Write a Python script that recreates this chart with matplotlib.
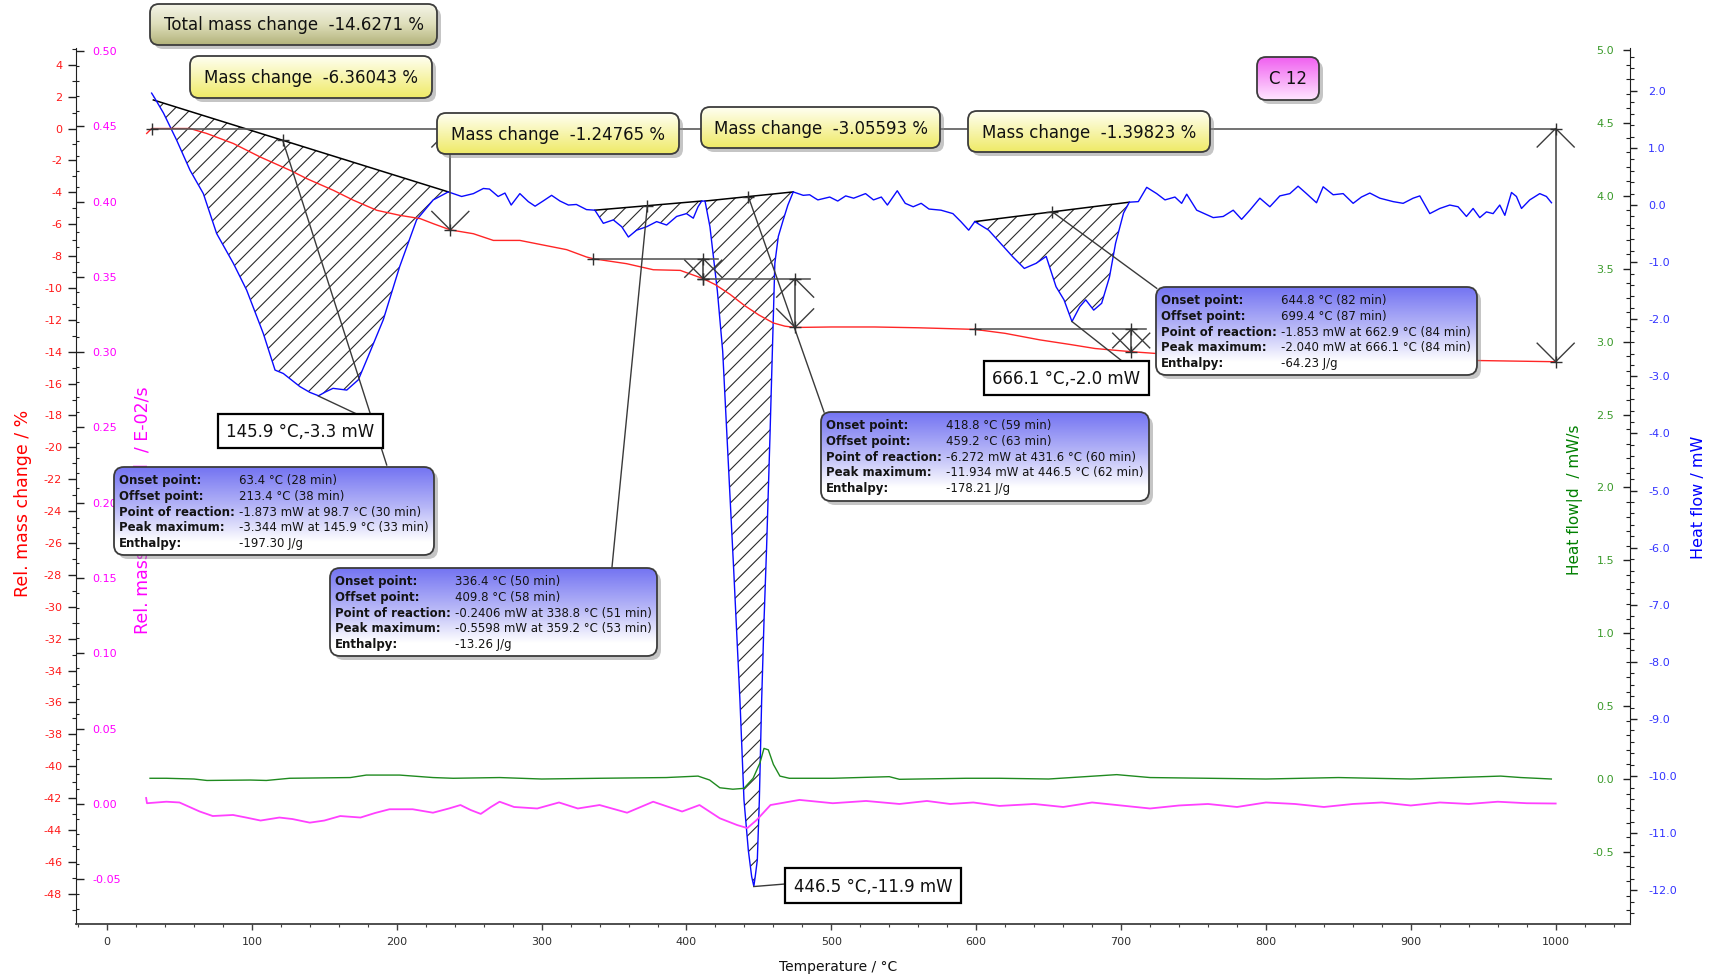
import numpy as np
import matplotlib.pyplot as plt
from matplotlib.patches import FancyBboxPatch, Rectangle
from matplotlib.ticker import MultipleLocator, FormatStrFormatter
from matplotlib.colors import to_rgb

plt.rcParams['font.family'] = ['DejaVu Sans']
plt.rcParams['axes.unicode_minus'] = False
plt.rcParams['hatch.linewidth'] = 0.8

# ---------------- data ----------------
# TG: relative mass change / %
mass_T = [27.4, 30.8, 57.3, 68.8, 87.2, 105.6, 126.3, 137.8, 156.3, 170.1, 186.2, 202.3, 216.1,
          225.2, 237.0, 252.9, 266.7, 285.0, 298.9, 317.3, 331.0, 335.7, 358.7, 377.1, 395.7,
          411.6, 420.0, 430.0, 440.0, 450.0, 460.0, 468.0, 475.0, 500.0, 530.0, 560.0, 599.0,
          620.0, 644.0, 665.0, 682.0, 707.0, 730.0, 757.0, 800.0, 833.0, 870.0, 909.0, 950.0, 1000.0]
mass_pct = [-0.31, 0.0, 0.0, -0.31, -0.94, -1.78, -2.62, -3.14, -3.88, -4.5, -5.13, -5.45, -5.65,
            -5.97, -6.36, -6.6, -7.02, -7.02, -7.27, -7.6, -8.06, -8.17, -8.48, -8.86, -8.9,
            -9.42, -9.8, -10.4, -11.1, -11.7, -12.2, -12.4, -12.48, -12.45, -12.45, -12.5, -12.6,
            -12.85, -13.26, -13.55, -13.8, -14.0, -14.15, -14.28, -14.38, -14.42, -14.47, -14.5, -14.56, -14.63]

# DSC: heat flow / mW
blue_T = [30.8, 33, 39, 48, 57.3, 66.5, 75.7, 87.2, 96.4, 107.9, 116, 121.7, 133.2, 140, 146, 151,
          156, 165.5, 173.5, 179.3, 190.7, 202, 213.7, 225.2, 235.6, 244.8, 252.9, 259.8, 264, 270,
          274.7, 279, 285, 290.8, 295.5, 301, 306.9, 312.7, 318.5, 324, 331, 336.8, 342.6, 349.5,
          355.3, 359.9, 365.6, 372.5, 379.4, 386.3, 393.2, 400, 404.7, 408, 410.5, 412.8, 416.2,
          418.6, 421.3, 425, 428.8, 432.6, 436.9, 439.7, 442.7, 445, 446.5, 447.5, 448.9, 450.3,
          451.9, 453.5, 455.3, 457.6, 459.5, 461, 463.4, 466.8, 470, 473.7, 480.6, 485, 488.7,
          490.7, 498.9, 504.4, 509.9, 515.4, 523.6, 529.1, 534.5, 538.7, 545.5, 551, 556.5, 562,
          567.4, 575.7, 583.9, 589.4, 594.8, 599, 608.6, 616.8, 625, 633.2, 641.4, 648.3, 655.1,
          660.6, 666.1, 671.5, 675.6, 681.1, 686.6, 692, 696.2, 701.7, 705.7, 711.9, 717.7, 724.6,
          730.3, 737.2, 741.8, 745.3, 752.2, 763.6, 770.5, 777.4, 783.2, 788.9, 795.8, 802.7,
          809.6, 816.5, 822.2, 828, 834.9, 839.5, 846.4, 853.3, 860.2, 865.9, 871.7, 878.6, 887.8,
          894.7, 901.6, 906.2, 913.1, 920, 926.9, 932.6, 938.4, 943, 947.6, 952.2, 956.8, 961.4,
          964.9, 969.5, 972.9, 976.4, 982.1, 989, 993.6, 997.1]
blue_mw = [1.96, 1.87, 1.61, 1.14, 0.61, 0.2, -0.5, -1.02, -1.49, -2.25, -2.89, -2.95, -3.18, -3.28,
           -3.34, -3.27, -3.21, -3.24, -3.06, -2.71, -2.01, -1.08, -0.26, 0.09, 0.23, 0.15, 0.2,
           0.29, 0.28, 0.15, 0.21, 0.0, 0.2, 0.06, -0.02, 0.07, 0.17, 0.07, 0.0, 0.01, -0.08, -0.09,
           -0.32, -0.26, -0.38, -0.56, -0.44, -0.38, -0.29, -0.35, -0.2, -0.15, -0.23, -0.03, 0.07,
           0.07, -0.38, -0.9, -1.5, -2.56, -4.47, -6.39, -8.67, -10.42, -11.3, -11.76, -11.93,
           -11.75, -11.47, -10.42, -8.67, -7.3, -6.0, -4.08, -2.4, -1.02, -0.55, -0.26, 0.0, 0.23,
           0.17, 0.18, 0.12, 0.09, 0.14, 0.07, 0.16, 0.12, 0.2, 0.09, 0.14, 0.0, 0.25, 0.03, -0.03,
           0.03, -0.07, -0.09, -0.15, -0.29, -0.44, -0.29, -0.44, -0.67, -0.9, -1.11, -1.02, -0.9,
           -1.43, -1.66, -2.04, -1.78, -1.66, -1.84, -1.72, -1.26, -0.67, -0.14, 0.05, 0.06, 0.31,
           0.2, 0.09, 0.14, 0.03, 0.19, -0.09, -0.22, -0.2, -0.09, -0.25, -0.09, 0.12, -0.03, 0.16,
           0.2, 0.33, 0.2, 0.04, 0.32, 0.18, 0.2, 0.03, 0.14, 0.21, 0.12, 0.06, 0.03, 0.12, 0.16,
           -0.15, -0.06, 0.0, -0.03, -0.2, -0.06, -0.22, -0.12, -0.15, 0.0, -0.18, 0.22, 0.15,
           -0.06, 0.09, 0.2, 0.15, 0.04]

# derivative of DSC / mW/s
green_T = [29.7, 41, 60, 69, 99, 110, 126, 168, 179, 202, 225, 239, 271, 300, 340, 386, 408, 416,
           423, 432, 439.7, 446, 450.7, 453.5, 456.5, 460, 464.5, 471, 501, 540, 547, 593, 616,
           650, 697, 720, 760, 800, 850, 900, 962, 976, 997]
green_v = [0.005, 0.005, 0.0, -0.01, -0.007, -0.01, 0.005, 0.01, 0.027, 0.027, 0.01, 0.005, 0.01,
           0.0, 0.005, 0.01, 0.02, -0.007, -0.06, -0.07, -0.064, 0.005, 0.11, 0.21, 0.2, 0.1, 0.02,
           0.005, 0.005, 0.016, -0.002, 0.005, 0.005, 0.0, 0.03, 0.01, 0.005, 0.0, 0.01, 0.0, 0.02,
           0.01, 0.0]

# DTG: derivative of mass change / E-02/s
mag_T = [27.0, 27.6, 41, 50, 57, 64, 73, 87, 96, 106, 119, 128, 140, 150, 161, 175, 185, 195, 211,
         225, 236, 244, 251, 258, 265, 271, 281, 297, 312, 325, 340, 359, 377, 397, 409, 423, 435,
         442, 448.5, 458, 478, 501, 524, 547, 566, 582, 598, 616, 640, 660, 680, 700, 720, 740,
         760, 780, 800, 820, 840, 860, 880, 900, 920, 940, 960, 980, 1000]
mag_v = [0.004, 0.0005, 0.0015, 0.001, -0.002, -0.005, -0.008, -0.0073, -0.009, -0.011, -0.009,
         -0.010, -0.0124, -0.011, -0.008, -0.009, -0.006, -0.0035, -0.0035, -0.0058, -0.003,
         -0.0007, -0.004, -0.0066, -0.002, 0.0015, -0.002, -0.003, 0.001, -0.003, -0.0007,
         -0.0058, 0.0015, -0.005, -0.0007, -0.0095, -0.014, -0.016, -0.0106, -0.0007, 0.0027,
         0.0005, 0.002, 0.0, 0.002, 0.0, 0.001, -0.0013, 0.0, -0.002, 0.001, -0.001, -0.003,
         -0.001, 0.0, -0.002, 0.001, 0.0, -0.002, 0.0, 0.001, -0.001, 0.001, 0.0, 0.0015, 0.0005,
         0.0003]

# DSC peak evaluation: integration baselines (T0, mW0, T1, mW1) and marker temperatures
peak_base = [(32.0, 1.84, 235.6, 0.23), (336.8, -0.09, 410.5, 0.07),
             (412.8, 0.07, 473.7, 0.23), (599.0, -0.29, 705.7, 0.05)]
peak_mark_T = [121.3, 373.0, 442.7, 652.6]
peak_max = [(145.9, -3.344), (446.5, -11.934), (666.1, -2.040)]
peak_max_text = ['145.9 °C,-3.3 mW', '446.5 °C,-11.9 mW', '666.1 °C,-2.0 mW']

info_labels = ['Onset point:', 'Offset point:', 'Point of reaction:', 'Peak maximum:', 'Enthalpy:']
info_values = [
    ['63.4 °C (28 min)', '213.4 °C (38 min)', '-1.873 mW at 98.7 °C (30 min)',
     '-3.344 mW at 145.9 °C (33 min)', '-197.30 J/g'],
    ['336.4 °C (50 min)', '409.8 °C (58 min)', '-0.2406 mW at 338.8 °C (51 min)',
     '-0.5598 mW at 359.2 °C (53 min)', '-13.26 J/g'],
    ['418.8 °C (59 min)', '459.2 °C (63 min)', '-6.272 mW at 431.6 °C (60 min)',
     '-11.934 mW at 446.5 °C (62 min)', '-178.21 J/g'],
    ['644.8 °C (82 min)', '699.4 °C (87 min)', '-1.853 mW at 662.9 °C (84 min)',
     '-2.040 mW at 666.1 °C (84 min)', '-64.23 J/g'],
]

# TG mass steps
total_change = -14.6271
step_change = [-6.36043, -1.24765, -3.05593, -1.39823]
step_start_T = [31.0, 335.7, 411.6, 599.0]
step_end_T = [237.0, 411.6, 475.0, 707.0]
step_level = [0.0, -8.17, -9.418, -12.6]
sample_name = 'C 12'

# ---------------- figure ----------------
W, H = 1717, 980
PL, PR, PB, PT = 76, 1630, 924, 48
fig = plt.figure(figsize=(W / 100, H / 100), dpi=100)
ax = fig.add_axes([PL / W, 1 - PB / H, (PR - PL) / W, (PB - PT) / H])
ax_b = ax.twinx()
ax_g = ax.twinx()
ax_m = ax.twinx()
for a in (ax, ax_b, ax_g, ax_m):
    a.patch.set_visible(False)
    for s in a.spines.values():
        s.set_visible(False)
ax_b.set_zorder(1)
ax_g.set_zorder(2)
ax_m.set_zorder(3)
ax.set_zorder(4)

spc = '#202020'
ax.spines['left'].set_visible(True)
ax.spines['left'].set_color(spc)
ax.spines['bottom'].set_visible(True)
ax.spines['bottom'].set_color('#404040')
ax.spines['bottom'].set_linewidth(1.3)
ax_b.spines['right'].set_visible(True)
ax_b.spines['right'].set_color(spc)

ax.set_xlim(-21.4, 1051.3)
ax.set_ylim(-49.9, 5.05)
ax_m.set_ylim(-0.0797, 0.502)
ax_g.set_ylim(-0.9945, 5.014)
ax_b.set_ylim(-12.59, 2.75)

# curves
ax.plot(mass_T, mass_pct, color='#ff2626', lw=1.0)
ax_m.plot(mag_T, mag_v, color='#ff40ff', lw=1.3)
ax_g.plot(green_T, green_v, color='#1f8a1f', lw=1.0)

bt = np.array(blue_T)
bv = np.array(blue_mw)
for t0, v0, t1, v1 in peak_base:
    sel = (bt >= t0) & (bt <= t1)
    seg_t = np.concatenate([[t0], bt[sel], [t1]])
    seg_v = np.concatenate([[np.interp(t0, bt, bv)], bv[sel], [np.interp(t1, bt, bv)]])
    base = np.interp(seg_t, [t0, t1], [v0, v1])
    ax_b.fill_between(seg_t, seg_v, base, facecolor='none', edgecolor='#2a2a2a', hatch='//', linewidth=0)
    ax_b.plot([t0, t1], [v0, v1], color='black', lw=1.1)
ax_b.plot(blue_T, blue_mw, color='#0a0aff', lw=1.0)

# ticks
ax.xaxis.set_major_locator(MultipleLocator(100))
ax.xaxis.set_minor_locator(MultipleLocator(20))
ax.tick_params(axis='x', which='major', direction='out', length=4.5, width=1, color='#404040',
               labelcolor='#303030', labelsize=8, pad=5)
ax.tick_params(axis='x', which='minor', direction='out', length=2.5, width=0.8, color='#404040')

ax.yaxis.set_major_locator(MultipleLocator(2))
ax.yaxis.set_minor_locator(MultipleLocator(1))
ax.tick_params(axis='y', which='major', direction='out', length=5.5, width=1, color=spc,
               labelcolor='#ff1a1a', labelsize=8, pad=4.5)
ax.tick_params(axis='y', which='minor', direction='out', length=3, width=0.8, color=spc)

ax_m.spines['right'].set_position(('axes', 0))
ax_m.yaxis.tick_right()
ax_m.yaxis.set_major_locator(MultipleLocator(0.05))
ax_m.yaxis.set_minor_locator(MultipleLocator(0.01))
ax_m.yaxis.set_major_formatter(FormatStrFormatter('%.2f'))
ax_m.tick_params(axis='y', which='major', direction='out', length=5.5, width=1, color=spc,
                 labelcolor='#ff00ff', labelsize=8, pad=6)
ax_m.tick_params(axis='y', which='minor', direction='out', length=2.5, width=0.8, color=spc)

ax_g.spines['left'].set_position(('axes', 1))
ax_g.yaxis.tick_left()
ax_g.yaxis.set_major_locator(MultipleLocator(0.5))
ax_g.yaxis.set_minor_locator(MultipleLocator(0.1))
ax_g.yaxis.set_major_formatter(FormatStrFormatter('%.1f'))
ax_g.tick_params(axis='y', which='major', direction='out', length=5, width=1, color=spc,
                 labelcolor='#3a9a2a', labelsize=8, pad=6.5)
ax_g.tick_params(axis='y', which='minor', direction='out', length=2.8, width=0.8, color=spc)

ax_b.yaxis.tick_right()
ax_b.yaxis.set_major_locator(MultipleLocator(1.0))
ax_b.yaxis.set_minor_locator(MultipleLocator(0.2))
ax_b.yaxis.set_major_formatter(FormatStrFormatter('%.1f'))
ax_b.tick_params(axis='y', which='major', direction='out', length=5, width=1, color=spc,
                 labelcolor='#3333ff', labelsize=8, pad=8)
ax_b.tick_params(axis='y', which='minor', direction='out', length=2.8, width=0.8, color=spc)

# ---------------- overlay in pixel coordinates for the annotations ----------------
ov = fig.add_axes([0, 0, 1, 1], zorder=10)
ov.set_xlim(0, W)
ov.set_ylim(H, 0)
ov.autoscale(False)
ov.axis('off')


def to_px(a, x, y):
    dx, dy = a.transData.transform((x, y))
    return dx, H - dy


def gradient_box(x0, y0, x1, y1, stops, text=None, size=12, rad=9):
    w, h = x1 - x0, y1 - y0
    style = f'round,pad=0,rounding_size={rad}'
    ov.add_patch(FancyBboxPatch((x0 + 4, y0 + 4), w, h, boxstyle=style, fc='#8c8c8c',
                                ec='none', alpha=0.5, zorder=20))
    frame = FancyBboxPatch((x0, y0), w, h, boxstyle=style, fc='none', ec='#3c3c3c', lw=1.3, zorder=22)
    ov.add_patch(frame)
    pos = [p for p, _ in stops]
    cols = np.array([to_rgb(c) for _, c in stops])
    t = np.linspace(0, 1, 120)
    img = np.stack([np.interp(t, pos, cols[:, k]) for k in range(3)], axis=-1)[:, None, :]
    img = np.repeat(img, 2, axis=1)
    im = ov.imshow(img, extent=(x0, x1, y1, y0), origin='upper', aspect='auto', zorder=21,
                   interpolation='bilinear')
    im.set_clip_path(frame)
    if text:
        ov.text((x0 + x1) / 2, (y0 + y1) / 2 + 1, text, fontsize=size, ha='center', va='center',
                color='#111111', zorder=23)


def plus(x, y):
    ov.plot([x], [y], marker='+', ms=9, mew=1.0, color='#303030', zorder=7)


def v_arrow(x, ytop, ybot, h=18.5, c='#3c3c3c'):
    ov.plot([x, x], [ytop, ybot], color=c, lw=1.1, zorder=6)
    ov.plot([x - h, x, x + h], [ytop + h, ytop, ytop + h], color=c, lw=1.0, zorder=6)
    ov.plot([x - h, x, x + h], [ybot - h, ybot, ybot - h], color=c, lw=1.0, zorder=6)
    plus(x, ytop)
    plus(x, ybot)


lc = '#5a5a5a'
# total mass change
xa, ya = to_px(ax, step_start_T[0], 0.0)
xb, yb = to_px(ax, 1000.0, 0.0)
ov.plot([xa, xb], [ya, yb], color=lc, lw=1.2, zorder=5)
plus(xa, ya)
_, yt = to_px(ax, 1000.0, total_change)
v_arrow(xb, yb, yt)

# individual mass steps
for i in range(4):
    xs, ys = to_px(ax, step_start_T[i], step_level[i])
    xe, ye = to_px(ax, step_end_T[i], step_level[i] + step_change[i])
    if i > 0:
        xh, _ = to_px(ax, step_end_T[i] + 10, step_level[i])
        ov.plot([xs, xh], [ys, ys], color=lc, lw=1.2, zorder=5)
        plus(xs, ys)
    v_arrow(xe, ys, ye)

# peak leader lines to the info boxes
info_box = [(114, 467, 434, 555), (330, 568, 657, 656), (821, 412, 1149, 501), (1156, 287, 1477, 375)]
info_anchor = [(386.7, 465), (612, 567), (824, 412), (1156.7, 288.3)]
for (t0, v0, t1, v1), tm, (ax_x, ax_y) in zip(peak_base, peak_mark_T, info_anchor):
    mx, my = to_px(ax_b, tm, np.interp(tm, [t0, t1], [v0, v1]))
    ov.plot([mx, ax_x], [my, ax_y], color='#3a3a3a', lw=1.0, zorder=6)
    plus(mx, my)

label_box = [(218, 414, 383, 448), (785, 868, 961, 903), (984, 361, 1149, 395)]
label_anchor = [(356.7, 414), (785, 884), (1122, 361)]
for (tp, vp), (lx, ly) in zip(peak_max, label_anchor):
    px_, py_ = to_px(ax_b, tp, vp)
    ov.plot([px_, lx], [py_, ly], color='#3a3a3a', lw=1.0, zorder=6)

for (x0, y0, x1, y1), txt in zip(label_box, peak_max_text):
    ov.add_patch(Rectangle((x0, y0), x1 - x0, y1 - y0, fc='white', ec='black', lw=1.6, zorder=22))
    ov.text((x0 + x1) / 2, (y0 + y1) / 2 + 1, txt, fontsize=12, ha='center', va='center',
            color='#111111', zorder=23)

# info boxes
blue_stops = [(0.0, '#7474f2'), (0.45, '#b6b6f7'), (0.85, '#ffffff'), (1.0, '#ffffff')]
for (x0, y0, x1, y1), vals in zip(info_box, info_values):
    gradient_box(x0, y0, x1, y1, blue_stops, rad=10)
    for i, (lab, val) in enumerate(zip(info_labels, vals)):
        yy = y0 + 13.5 + i * 15.8
        ov.text(x0 + 5, yy, lab, fontsize=8.5, fontweight='bold', ha='left', va='center',
                color='#141414', zorder=23)
        ov.text(x0 + 125, yy, val, fontsize=8.5, ha='left', va='center', color='#141414', zorder=23)

# mass change boxes
yellow = [(0.0, '#fffff2'), (1.0, '#efea66')]
gradient_box(150, 4, 437, 45, [(0.0, '#f4f4e8'), (0.5, '#dedeba'), (1.0, '#b2b27a')],
             f'Total mass change  {total_change:.4f} %')
mc_boxes = [(190, 56, 432, 98), (437, 113, 679, 154), (701, 107, 940, 148), (968, 111, 1210, 152)]
for (x0, y0, x1, y1), ch in zip(mc_boxes, step_change):
    gradient_box(x0, y0, x1, y1, yellow, f'Mass change  {ch:.5f} %')
gradient_box(1257, 57, 1319, 100, [(0.0, '#f060f0'), (1.0, '#ffe6ff')], sample_name)

# axis titles
ov.text(838, 967, 'Temperature / °C', fontsize=10, ha='center', va='center', color='#111111', zorder=3)
ov.text(23, 503, 'Rel. mass change / %', fontsize=12.5, rotation=90, ha='center', va='center',
        color='#ff0000', zorder=3)
ov.text(143, 510, 'Rel. mass change|d  / E-02/s', fontsize=12.5, rotation=90, ha='center',
        va='center', color='#ff00ff', zorder=3)
ov.text(1575, 500, 'Heat flow|d  / mW/s', fontsize=11, rotation=90, ha='center', va='center',
        color='#008000', zorder=3)
ov.text(1698, 497, 'Heat flow / mW', fontsize=11.5, rotation=90, ha='center', va='center',
        color='#0000ff', zorder=3)

fig.savefig('out.png', dpi=100)
